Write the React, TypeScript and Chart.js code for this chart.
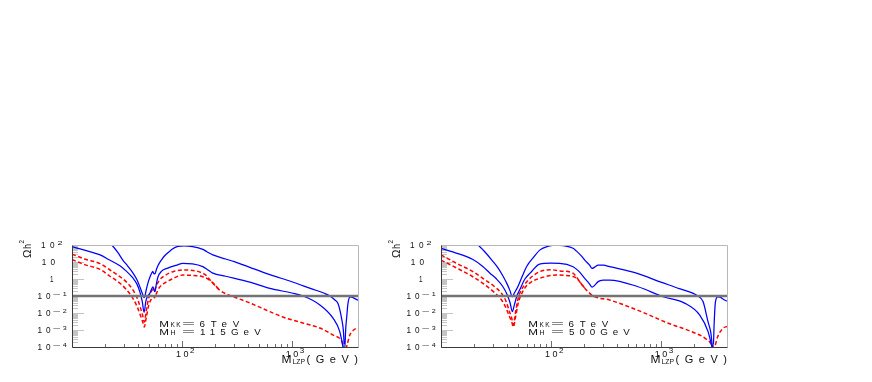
import React, { useEffect, useRef } from 'react';
import { Chart, registerables } from 'chart.js';

Chart.register(...registerables);

type P = [number, number];

// ---------------- axes / ticks ----------------
const X_MIN = 10;
const X_MAX = 4000;
const Y_MIN = 1e-4;
const Y_MAX = 100;
const Y_TICKS = [1e-4, 1e-3, 1e-2, 1e-1, 1, 10, 100];
const Y_TICK_LABELS = ['10^-4', '10^-3', '10^-2', '10^-1', '1', '10', '10^2'];
const X_TICKS = [100, 1000];
const X_TICK_LABELS = ['10^2', '10^3'];
const X_DECADES = [10, 100, 1000];
const MINOR_MULT = [2, 3, 4, 5, 6, 7, 8, 9];
const OMEGA_BAND = 0.1; // horizontal reference line Ωh² = 0.1

const Y_TITLE = 'Ωh';
const X_TITLE_MAIN = 'M';
const X_TITLE_SUB = 'LZP';
const X_TITLE_UNIT = '(GeV)';
const MKK_LABEL = '6TeV';
const MH_LABELS = ['115GeV', '500GeV'];

// ---------------- left panel: M_H = 115 GeV ----------------
const L_BLUE_UP: P[] = [
  [10, 1500], [15, 450], [20, 180], [23, 100], [26, 38], [29, 13], [32, 6], [35.8, 2.3], [39, 0.9],
  [41.5, 0.34], [43.5, 0.15], [45.5, 0.08], [47.5, 0.25], [49.5, 0.7], [51.2, 1.3], [53, 2.2],
  [54.3, 2.8], [55.5, 2.1], [56.8, 2.0], [58.5, 3.5], [60.5, 6], [65, 13], [70, 24], [75, 36],
  [82, 58], [92, 82], [105, 90], [125, 80], [155, 55], [169, 40], [191, 26], [250, 15], [300, 10.5],
  [415, 4.8], [631, 1.8], [1000, 0.69], [1500, 0.27], [2000, 0.14], [2220, 0.1], [2450, 0.06],
  [2636, 0.035], [2833, 0.005], [2950, 0.0008], [3020, 0.00006], [3100, 0.0015], [3160, 0.006],
  [3230, 0.03], [3320, 0.075], [3420, 0.088], [3600, 0.08], [4000, 0.056],
];
const L_BLUE_LO: P[] = [
  [10, 80], [13, 50], [18, 26], [22, 13], [27.3, 6], [31, 3], [35.8, 1.15], [39, 0.5], [41.5, 0.17],
  [43.5, 0.05], [45.3, 0.011], [47, 0.05], [48.5, 0.09], [51.2, 0.15], [53, 0.26], [54.5, 0.34],
  [55.7, 0.22], [56.9, 0.18], [58.5, 0.5], [60.5, 1.3], [65, 2.8], [74.5, 4.4], [90, 6.6], [102, 8.3],
  [125, 7.8], [155, 5.3], [170, 3.6], [191, 2.2], [250, 1.45], [415, 0.66], [631, 0.28], [1000, 0.15],
  [1268, 0.1], [1800, 0.03], [2370, 0.005], [2730, 0.0008], [2980, 0.00005],
];
const L_RED_UP_HEAD: P[] = [
  [10, 29], [13, 15], [18, 8], [22, 3.5], [27.3, 1.37], [31, 0.7], [35.8, 0.23], [39, 0.08], [42, 0.02],
  [44, 0.007], [45.5, 0.003], [47.5, 0.015], [50, 0.08], [53, 0.2], [54.5, 0.25], [56, 0.2], [57.5, 0.3],
  [62, 0.8], [70, 1.6], [83, 2.7], [110, 3.4], [140, 2.8], [155, 2.15], [165, 1.7], [175, 1.1], [186, 0.7],
];
const L_RED_LO_HEAD: P[] = [
  [10, 14], [13, 7], [18, 3.7], [22, 1.5], [27.3, 0.56], [31, 0.25], [35.8, 0.073], [39, 0.025],
  [42, 0.007], [44, 0.003], [45.5, 0.0015], [47.5, 0.006], [50, 0.03], [53, 0.07], [55, 0.1],
  [56.5, 0.08], [58, 0.12], [62, 0.3], [70, 0.6], [78, 0.87], [102, 1.7], [130, 1.6], [155, 1.37],
  [170, 1.05], [186, 0.7],
];
const L_RED_TAIL: P[] = [
  [221, 0.22], [316, 0.076], [415, 0.039], [631, 0.012], [828, 0.0058], [1259, 0.0026], [1800, 0.0013],
  [2380, 0.0005], [2850, 0.00022], [3050, 0.00006], [3200, 0.00015], [3366, 0.0005], [3650, 0.001],
  [4000, 0.0014],
];

// ---------------- right panel: M_H = 500 GeV ----------------
const R_BLUE_UP: P[] = [
  [10, 1500], [15, 400], [19, 170], [21.7, 100], [25, 40], [29, 13], [33, 4.5], [36.6, 1.5], [40, 0.5],
  [42.5, 0.2], [44.5, 0.09], [46.5, 0.15], [50, 0.35], [55, 1.5], [60, 5.3], [70, 20], [79, 50],
  [95, 85], [112, 98], [130, 92], [159, 64], [170, 45], [190, 22], [203, 13], [225, 6.5], [237, 4.2],
  [250, 5], [269, 6.6], [300, 6.5], [342, 5.3], [600, 2.2], [1000, 0.66], [1500, 0.26], [2170, 0.1],
  [2420, 0.047], [2690, 0.003], [2850, 0.0007], [2990, 0.00006], [3060, 0.003], [3120, 0.03],
  [3190, 0.07], [3275, 0.09], [3450, 0.085], [3800, 0.058], [4000, 0.05],
];
const R_BLUE_LO: P[] = [
  [10, 64], [13, 38], [19.5, 14], [24, 5.5], [27.9, 2.2], [32, 1], [36.6, 0.35], [40, 0.12], [42.5, 0.04],
  [44.5, 0.012], [46.5, 0.03], [49, 0.1], [52, 0.23], [58, 1], [64.6, 2.2], [79, 7.6], [100, 8.6],
  [120, 8.4], [159, 5.3], [180, 2.8], [203, 1.1], [225, 0.5], [237, 0.33], [250, 0.42], [269, 0.7],
  [300, 0.85], [342, 0.87], [620, 0.35], [1050, 0.09], [1660, 0.037], [2260, 0.0075], [2690, 0.0008],
  [2900, 0.00012], [3000, 0.00005],
];
const R_RED_UP_HEAD: P[] = [
  [10, 26], [14.9, 6.6], [19, 3], [24, 1.1], [30, 0.4], [35.6, 0.14], [39, 0.05], [42, 0.012], [44, 0.005],
  [45.5, 0.002], [47.5, 0.01], [50, 0.06], [52, 0.14], [58, 0.5], [64.6, 1.1], [79, 2.7], [100, 3.5],
  [121, 3.0], [159, 2.2], [171, 1.3], [186, 0.6],
];
const R_RED_LO_HEAD: P[] = [
  [10, 13], [14.9, 3.5], [19, 1.5], [24, 0.56], [30, 0.18], [35.6, 0.058], [39, 0.02], [42, 0.006],
  [44, 0.003], [45.5, 0.0015], [47.5, 0.005], [50, 0.03], [52, 0.073], [58, 0.3], [64.6, 0.6], [79, 1.1],
  [112, 1.7], [130, 1.65], [159, 1.4], [171, 1.1], [186, 0.6],
];
const R_RED_TAIL: P[] = [
  [204, 0.28], [243, 0.1], [342, 0.058], [610, 0.015], [1170, 0.0025], [1900, 0.0008], [2530, 0.00032],
  [2900, 0.00012], [3000, 0.00005], [3100, 0.0001], [3290, 0.0004], [3700, 0.0013], [4000, 0.0016],
];

// the two red curves coincide past the merge point; the lower one is drawn up to it only
const PANEL_DATA = [
  { blueUp: L_BLUE_UP, blueLo: L_BLUE_LO, redUp: [...L_RED_UP_HEAD, ...L_RED_TAIL], redLo: [...L_RED_LO_HEAD, L_RED_TAIL[0]] },
  { blueUp: R_BLUE_UP, blueLo: R_BLUE_LO, redUp: [...R_RED_UP_HEAD, ...R_RED_TAIL], redLo: [...R_RED_LO_HEAD, R_RED_TAIL[0]] },
];

// ---------------- drawing helpers ----------------
const FONT = '"Liberation Sans", Arial, Helvetica, sans-serif';
const BLUE = '#0000ff';
const RED = '#ff0000';

function span(ctx: CanvasRenderingContext2D, s: string, x0: number, x1: number, base: number, px: number) {
  ctx.save();
  ctx.font = `${px}px ${FONT}`;
  ctx.textAlign = 'left';
  ctx.textBaseline = 'alphabetic';
  (ctx as any).letterSpacing = '0px';
  const w0 = ctx.measureText(s).width;
  const target = x1 - x0;
  const n = Array.from(s).length;
  if (n > 1 && target >= w0) {
    (ctx as any).letterSpacing = `${(target - w0) / (n - 1)}px`;
    ctx.fillText(s, x0, base);
  } else {
    ctx.translate(x0, base);
    ctx.scale(target / w0, 1);
    ctx.fillText(s, 0, 0);
  }
  ctx.restore();
}

function hline(ctx: CanvasRenderingContext2D, x0: number, x1: number, y: number) {
  ctx.beginPath();
  ctx.moveTo(x0, y);
  ctx.lineTo(x1, y);
  ctx.stroke();
}
function vline(ctx: CanvasRenderingContext2D, x: number, y0: number, y1: number) {
  ctx.beginPath();
  ctx.moveTo(x, y0);
  ctx.lineTo(x, y1);
  ctx.stroke();
}

const decorPlugin = {
  id: 'decor',
  beforeDatasetsDraw(chart: any) {
    const { ctx, chartArea: a, scales } = chart;
    const ys = scales.y;
    ctx.save();
    ctx.lineWidth = 1;
    ctx.strokeStyle = '#c4c4c4';
    for (const d of Y_TICKS) {
      if (d >= Y_MAX) continue;
      for (const m of MINOR_MULT) {
        const py = Math.round(ys.getPixelForValue(d * m)) + 0.5;
        hline(ctx, a.left, a.left + 6, py);
      }
    }
    for (const v of Y_TICKS) {
      const py = Math.round(ys.getPixelForValue(v)) + 0.5;
      hline(ctx, a.left, a.left + 12, py);
    }
    ctx.restore();
  },
  afterDatasetsDraw(chart: any, _args: any, opts: any) {
    const { ctx, chartArea: a, scales } = chart;
    const xs = scales.x;
    const ys = scales.y;
    ctx.save();
    ctx.lineWidth = 1;
    // x ticks (upward from the bottom axis)
    ctx.strokeStyle = '#707070';
    for (const d of X_DECADES) {
      for (const m of MINOR_MULT) {
        const v = d * m;
        if (v >= X_MAX) continue;
        const px = Math.round(xs.getPixelForValue(v)) + 0.5;
        vline(ctx, px, a.bottom, a.bottom - 3);
      }
    }
    for (const v of X_TICKS) {
      const px = Math.round(xs.getPixelForValue(v)) + 0.5;
      vline(ctx, px, a.bottom, a.bottom - 6);
    }
    // frame
    const L = Math.round(a.left) + 0.5;
    const R = Math.round(a.right) + 0.5;
    const T = Math.round(a.top) + 0.5;
    const B = Math.round(a.bottom) + 0.5;
    ctx.strokeStyle = '#b8b8b8';
    hline(ctx, L, R, T);
    vline(ctx, R, T, B);
    ctx.strokeStyle = '#3a3a3a';
    vline(ctx, L, T, B);
    hline(ctx, L, R, B);

    ctx.fillStyle = '#111';
    // y tick labels
    Y_TICKS.forEach((v, i) => {
      const py = ys.getPixelForValue(v);
      const [base, exp] = Y_TICK_LABELS[i].split('^');
      const off = a.left - 72;
      if (exp === undefined) {
        if (base === '10') span(ctx, base, off + 41.7, off + 55, py + 3, 8.2);
        else span(ctx, base, off + 50, off + 53.5, py + 3, 8.2);
      } else if (exp.startsWith('-')) {
        span(ctx, '10', off + 37.5, off + 50.5, py + 3, 8.2);
        span(ctx, '\u2212', off + 53, off + 61, py - 0.3, 6);
        span(ctx, exp.slice(1), off + 62.8, off + 66.8, py, 6);
      } else {
        span(ctx, '10', off + 41, off + 54.5, py + 3, 8.2);
        span(ctx, exp, off + 57.5, off + 62.5, py, 6);
      }
    });
    // x tick labels
    X_TICKS.forEach((v, i) => {
      const px = xs.getPixelForValue(v);
      const [base, exp] = X_TICK_LABELS[i].split('^');
      span(ctx, base, px - 6, px + 6.5, a.bottom + 10, 9);
      if (exp) span(ctx, exp, px + 8, px + 12.5, a.bottom + 6, 6.5);
    });
    // x title
    const xr = a.right;
    span(ctx, X_TITLE_MAIN, xr - 76.5, xr - 66.5, a.bottom + 16, 11);
    span(ctx, X_TITLE_SUB, xr - 65.5, xr - 53, a.bottom + 16.5, 7);
    span(ctx, X_TITLE_UNIT, xr - 51.5, xr, a.bottom + 16, 11);
    // y title (rotated)
    ctx.save();
    ctx.translate(a.left - 41, a.top + 13);
    ctx.rotate(-Math.PI / 2);
    span(ctx, Y_TITLE[0], 0, 8.5, 0, 11);
    span(ctx, Y_TITLE[1], 9, 14, 0, 11);
    span(ctx, '2', 14.5, 18, -7.5, 6.5);
    ctx.restore();
    // annotation
    const ax = a.left + 87.3;
    const b1 = a.top + 81.5;
    const b2 = a.top + 89.5;
    span(ctx, 'M', ax, ax + 9.7, b1, 9.8);
    span(ctx, 'KK', ax + 11.2, ax + 21.2, b1, 6.5);
    span(ctx, '=', ax + 22.7, ax + 35.7, b1 - 0.5, 9);
    span(ctx, MKK_LABEL, ax + 40.2, ax + 80, b1, 9.8);
    span(ctx, 'M', ax, ax + 9.7, b2, 9.8);
    span(ctx, 'H', ax + 11.2, ax + 16.2, b2, 6.5);
    span(ctx, '=', ax + 22.7, ax + 35.7, b2 - 0.5, 9);
    span(ctx, opts.mh, ax + 40.7, ax + 101.4, b2, 9.8);
    ctx.restore();
  },
};

const toXY = (arr: P[]) => arr.map(([x, y]) => ({ x, y }));

function Panel({ index, left }: { index: number; left: number }) {
  const ref = useRef<HTMLCanvasElement>(null);
  useEffect(() => {
    const d = PANEL_DATA[index];
    const line = (data: P[], color: string, width: number, dash: number[]) => ({
      data: toXY(data),
      borderColor: color,
      borderWidth: width,
      borderDash: dash,
      pointRadius: 0,
      fill: false,
      cubicInterpolationMode: 'monotone' as const,
      clip: 0,
    });
    const chart = new Chart(ref.current as HTMLCanvasElement, {
      type: 'line',
      data: {
        datasets: [
          { ...line([[X_MIN, OMEGA_BAND], [X_MAX, OMEGA_BAND]], '#747474', 2.4, []), cubicInterpolationMode: 'default' as const },
          line(d.blueUp, BLUE, 1.25, []),
          line(d.blueLo, BLUE, 1.25, []),
          line(d.redUp, RED, 1.5, [4, 2.5]),
          line(d.redLo, RED, 1.5, [4, 2.5]),
        ] as any,
      },
      options: {
        animation: false,
        responsive: false,
        devicePixelRatio: 1,
        layout: { padding: { left: 72, top: 245, right: 11, bottom: 35 } },
        scales: {
          x: { type: 'logarithmic', min: X_MIN, max: X_MAX, display: false, bounds: 'data' },
          y: { type: 'logarithmic', min: Y_MIN, max: Y_MAX, display: false, bounds: 'data' },
        },
        plugins: {
          legend: { display: false },
          tooltip: { enabled: false },
          decor: { mh: MH_LABELS[index] },
        } as any,
      },
      plugins: [decorPlugin as any],
    });
    return () => chart.destroy();
  }, [index]);
  return (
    <canvas
      ref={ref}
      width={369}
      height={382}
      style={{ position: 'absolute', left, top: 0, width: 369, height: 382, display: 'block' }}
    />
  );
}

export default function App() {
  return (
    <div style={{ position: 'absolute', left: 0, top: 0, width: 872, height: 382, background: '#fff', overflow: 'hidden' }}>
      <Panel index={0} left={0} />
      <Panel index={1} left={369} />
    </div>
  );
}
